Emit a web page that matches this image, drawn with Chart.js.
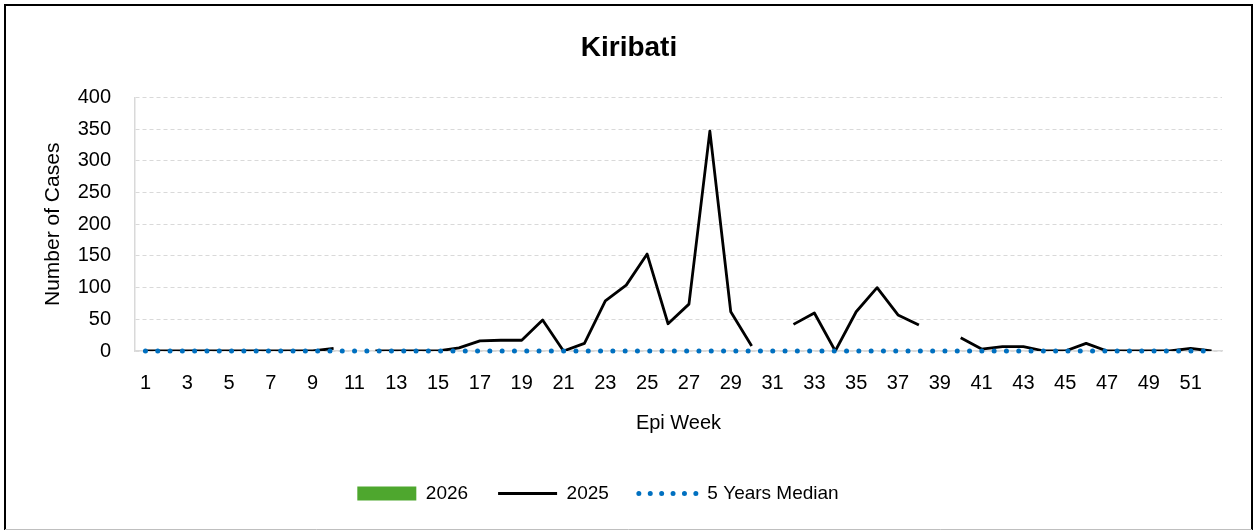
<!DOCTYPE html>
<html>
<head>
<meta charset="utf-8">
<script src="https://cdn.jsdelivr.net/npm/chart.js@4/dist/chart.umd.min.js"></script>
<style>
  html, body { margin: 0; padding: 0; background: #fff; }
  #wrap { width: 1255px; height: 531px; position: relative; }
</style>
</head>
<body>
<div id="wrap"><canvas id="c" width="1255" height="531"></canvas></div>
<script>
const weeks = Array.from({length: 52}, (_, i) => String(i + 1));
const cases2026 = [];
const cases2025 = [0,0,0,0,0,0,0,0,0,4,null,0,0,0,0,5,16,17,17,49,0,12,79,104,153,43,74,347,62,8,null,42,60,0,62,100,57,41,null,21,3,7,7,0,0,12,0,0,0,0,4,0];
const median5y = [0,0,0,0,0,0,0,0,0,0,0,0,0,0,0,0,0,0,0,0,0,0,0,0,0,0,0,0,0,0,0,0,0,0,0,0,0,0,0,0,0,0,0,0,0,0,0,0,0,0,0,0];
const yTicks = [0, 50, 100, 150, 200, 250, 300, 350, 400];

const frame = {
  id: 'frame',
  afterLayout(chart) {
    // centre the title over the whole picture, nudge the legend left
    chart.titleBlock.left += 18; chart.titleBlock.right += 18;
    chart.legend.left -= 13; chart.legend.right -= 13;
  },
  afterDraw(chart) {
    const ctx = chart.ctx;
    ctx.save();
    ctx.strokeStyle = '#000';
    ctx.lineWidth = 2;
    ctx.beginPath();
    ctx.moveTo(5, 530); ctx.lineTo(5, 5); ctx.lineTo(1252, 5); ctx.lineTo(1252, 530);
    ctx.stroke();
    ctx.strokeStyle = '#bfbfbf';
    ctx.lineWidth = 1;
    ctx.beginPath();
    ctx.moveTo(5, 529.5); ctx.lineTo(1252, 529.5);
    ctx.stroke();
    ctx.restore();
  }
};

const baseFont = "'Liberation Sans', Arial, sans-serif";

new Chart(document.getElementById('c'), {
  data: {
    labels: weeks,
    datasets: [
      { type: 'bar', label: '2026', data: cases2026, backgroundColor: '#4EA72E', borderWidth: 0, order: 2 },
      { type: 'line', label: '2025', data: cases2025, borderColor: '#000', backgroundColor: '#000',
        borderWidth: 2.8, borderJoinStyle: 'round', pointRadius: 0, spanGaps: false, tension: 0, order: 1 },
      { type: 'line', label: '5 Years Median', data: median5y, borderColor: '#0070C0', backgroundColor: '#0070C0',
        borderWidth: 5, borderDash: [0, 12.3], borderCapStyle: 'round', pointRadius: 0, order: 0, clip: 6 }
    ]
  },
  options: {
    responsive: false,
    animation: false,
    layout: { padding: { left: 0, right: 33, top: 0, bottom: 18 } },
    plugins: {
      title: {
        display: true, text: 'Kiribati', color: '#000',
        font: { family: baseFont, size: 28, weight: 'bold' },
        padding: { top: 31, bottom: 33 }
      },
      legend: {
        position: 'bottom',
        labels: {
          color: '#000',
          font: { family: baseFont, size: 19 },
          usePointStyle: true,
          pointStyleWidth: 59,
          boxHeight: 14,
          padding: 30,
          sort: (a, b) => a.datasetIndex - b.datasetIndex,
          generateLabels(chart) {
            const items = Chart.defaults.plugins.legend.labels.generateLabels(chart);
            items.forEach(it => {
              if (it.datasetIndex === 0) { it.pointStyle = 'rect'; it.lineWidth = 0; }
              else if (it.datasetIndex === 1) { it.pointStyle = 'line'; it.lineWidth = 2.8; }
              else { it.pointStyle = 'line'; it.lineWidth = 5; it.lineDash = [0, 11.4]; it.lineCap = 'round'; }
            });
            return items;
          }
        }
      },
      tooltip: { enabled: false }
    },
    scales: {
      x: {
        type: 'category',
        offset: true,
        grid: { display: false, drawTicks: false },
        border: { display: true, color: '#d9d9d9', width: 1.5 },
        ticks: {
          autoSkip: false, maxRotation: 0, color: '#000', padding: 20,
          font: { family: baseFont, size: 20 },
          callback: function(v, i) { return i % 2 === 0 ? this.getLabelForValue(v) : ''; }
        },
        title: { display: true, text: 'Epi Week', color: '#000',
          font: { family: baseFont, size: 20 }, padding: { top: 10, bottom: 19 } },
        afterFit(s) { s.height = 103; }
      },
      y: {
        min: 0, max: 400,
        afterBuildTicks(s) { s.ticks = yTicks.map(v => ({ value: v })); },
        grid: { color: '#d9d9d9', drawTicks: false, lineWidth: 1 },
        border: { display: true, color: '#d9d9d9', width: 1.5, dash: [4, 3] },
        ticks: { color: '#000', padding: 24, font: { family: baseFont, size: 20 } },
        title: { display: true, text: 'Number of Cases', color: '#000',
          font: { family: baseFont, size: 21 }, padding: { top: 41, bottom: 0 } },
        afterFit(s) { s.width = 135; }
      }
    }
  },
  plugins: [frame]
});
</script>
</body>
</html>
